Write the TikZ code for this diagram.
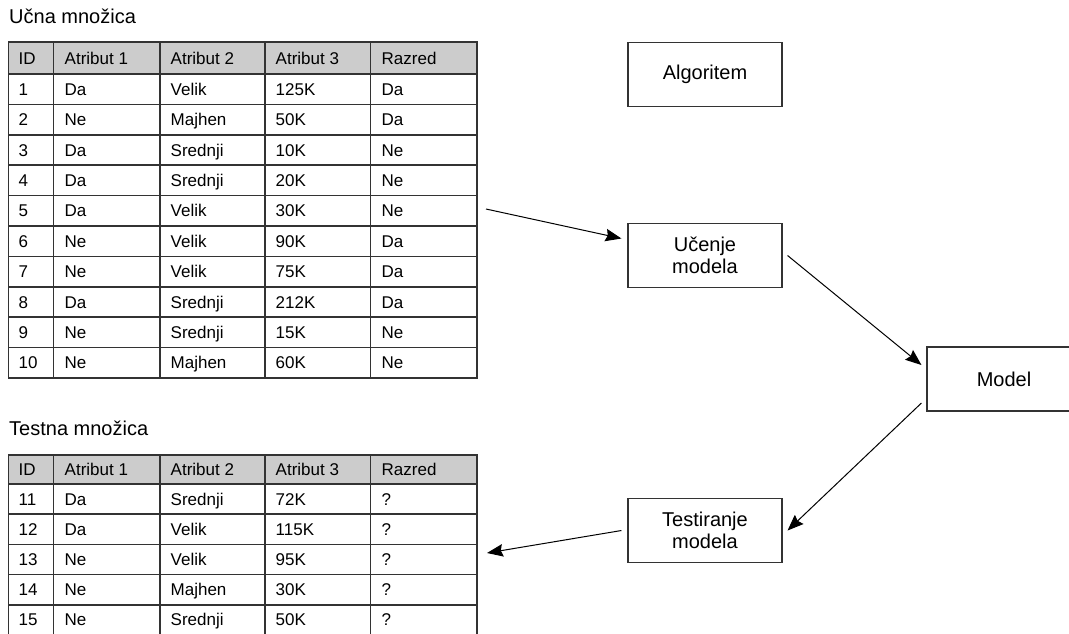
\documentclass[tikz,border=0pt]{standalone}
\usepackage{fontspec}
\setmainfont{Liberation Sans}
\usetikzlibrary{arrows.meta}
\definecolor{headgray}{HTML}{CCCCCC}
\definecolor{linegray}{HTML}{333333}
\newcommand\celltxt{\fontsize{17}{20}\selectfont}
\newcommand\boxtxt{\fontsize{20}{22}\selectfont}
\tikzset{
  lbl/.style={anchor=base west, inner sep=0pt, font=\celltxt},
  ttl/.style={anchor=base west, inner sep=0pt, font=\boxtxt},
  grid/.style={draw=linegray, line width=1.5pt},
  box/.style={draw=linegray, line width=1.1pt, minimum width=154pt,
    minimum height=64pt, inner sep=0pt, align=center, font=\boxtxt},
  arr/.style={-{Stealth[length=16pt, width=12.5pt, inset=2pt]}, line width=1pt},
}
\begin{document}
\begin{tikzpicture}[x=1pt,y=-1pt]
\useasboundingbox (0,0) rectangle (1069,633);

% ucna mnozica
\node[ttl] (uttl) at (9,23) {Učna množica};
\fill[headgray] (8.5,42) rectangle (477,74);
\draw[grid] (8.5,42) rectangle (477,378);
\foreach \x in {53.5,160,265,370.5}
  \draw[grid] (\x,42) -- (\x,378);
\foreach \i in {0,...,9}
  \draw[grid] (8.5,74+\i*30.4) -- (477,74+\i*30.4);
\node[lbl] (u0-0) at (18.5,64) {ID};
\foreach \x/\t [count=\c] in {64.5/Atribut 1,170.5/Atribut 2,275.5/Atribut 3,381.5/Razred}
  \node[lbl] (u0-\c) at (\x,64) {\t};
\foreach \id/\a/\b/\v/\r [count=\i] in {1/Da/Velik/125K/Da, 2/Ne/Majhen/50K/Da,
    3/Da/Srednji/10K/Ne, 4/Da/Srednji/20K/Ne, 5/Da/Velik/30K/Ne, 6/Ne/Velik/90K/Da,
    7/Ne/Velik/75K/Da, 8/Da/Srednji/212K/Da, 9/Ne/Srednji/15K/Ne, 10/Ne/Majhen/60K/Ne}{
  \pgfmathsetmacro\y{74+(\i-0.5)*30.4+6}
  \node[lbl] (u\i-0) at (18.5,\y) {\id};
  \node[lbl] (u\i-1) at (64.5,\y) {\a};
  \node[lbl] (u\i-2) at (170.5,\y) {\b};
  \node[lbl] (u\i-3) at (275.5,\y) {\v};
  \node[lbl] (u\i-4) at (381.5,\y) {\r};
}

% testna mnozica
\node[ttl] (tttl) at (9,435) {Testna množica};
\fill[headgray] (8.5,455) rectangle (477,484);
\draw[grid] (8.5,455) rectangle (477,635);
\foreach \x in {53.5,160,265,370.5}
  \draw[grid] (\x,455) -- (\x,635);
\foreach \i in {0,...,4}
  \draw[grid] (8.5,484+\i*30.2) -- (477,484+\i*30.2);
\node[lbl] (t0-0) at (18.5,475.5) {ID};
\foreach \x/\t [count=\c] in {64.5/Atribut 1,170.5/Atribut 2,275.5/Atribut 3,381.5/Razred}
  \node[lbl] (t0-\c) at (\x,475.5) {\t};
\foreach \id/\a/\b/\v [count=\i] in {11/Da/Srednji/72K, 12/Da/Velik/115K,
    13/Ne/Velik/95K, 14/Ne/Majhen/30K, 15/Ne/Srednji/50K}{
  \pgfmathsetmacro\y{484+(\i-0.5)*30.2+6}
  \node[lbl] (t\i-0) at (18.5,\y) {\id};
  \node[lbl] (t\i-1) at (64.5,\y) {\a};
  \node[lbl] (t\i-2) at (170.5,\y) {\b};
  \node[lbl] (t\i-3) at (275.5,\y) {\v};
  \node[lbl] (t\i-4) at (381.5,\y) {?};
}

% postopek
\node[box] (alg) at (705,74.5) {Algoritem};
\node[box] (ucenje) at (705,255.5) {Učenje\\modela};
\node[box] (model) at (1004,379) {Model};
\node[box] (test) at (705,530.5) {Testiranje\\modela};

\coordinate (uout) at (486,209);
\coordinate (tin) at (487,553);
\draw[arr] (uout) -- ([shift={(-6pt,17pt)}]ucenje.west);
\draw[arr] ([xshift=5pt]ucenje.east) -- ([shift={(-5pt,14pt)}]model.west);
\draw[arr] ([shift={(-5pt,-24pt)}]model.west) -- ([xshift=5pt]test.east);
\draw[arr] ([xshift=-6pt]test.west) -- (tin);
\end{tikzpicture}
\end{document}
